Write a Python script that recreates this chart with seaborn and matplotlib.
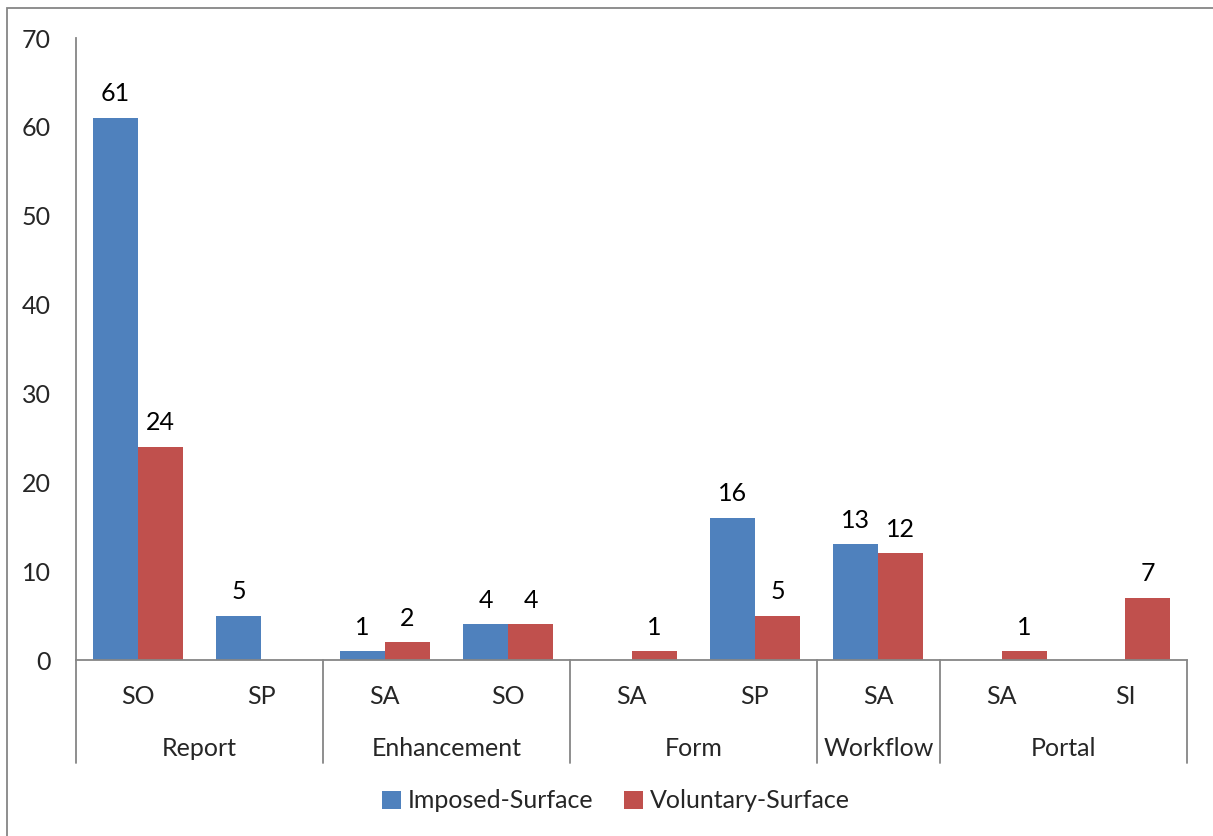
import numpy as np
import pandas as pd
import seaborn as sns
import matplotlib.pyplot as plt
from matplotlib.patches import Rectangle
from matplotlib.transforms import blended_transform_factory

# Two-level category axis: work type and sub-type
groups = ["Report", "Report", "Enhancement", "Enhancement", "Form", "Form",
          "Workflow", "Portal", "Portal"]
subtypes = ["SO", "SP", "SA", "SO", "SA", "SP", "SA", "SA", "SI"]
imposed = [61, 5, 1, 4, np.nan, 16, 13, np.nan, np.nan]
voluntary = [24, np.nan, 2, 4, 1, 5, 12, 1, 7]
series_names = ["Imposed-Surface", "Voluntary-Surface"]
y_ticks = [0, 10, 20, 30, 40, 50, 60, 70]

colors = ["#4F81BD", "#C0504D"]
axis_color = "#868686"

sns.set_style("white")
plt.rcParams["font.family"] = ["Lato", "DejaVu Sans"]
FS = 18

keys = [f"{g}|{s}" for g, s in zip(groups, subtypes)]
df = pd.DataFrame({
    "key": keys * 2,
    "series": [series_names[0]] * len(keys) + [series_names[1]] * len(keys),
    "value": imposed + voluntary,
}).dropna()

W, H = 1213, 836
fig = plt.figure(figsize=(W / 100, H / 100), dpi=100)
ax = fig.add_axes([76 / W, 1 - 660 / H, (1187 - 76) / W, (660 - 38) / H])

sns.barplot(data=df, x="key", y="value", hue="series", order=keys,
            hue_order=series_names, palette=colors, width=0.73,
            linewidth=0, saturation=1, ax=ax, legend=True)

for cont in ax.containers:
    ax.bar_label(cont, fmt="%.0f", padding=9, fontsize=FS, color="black")

ax.set_ylim(0, 70)
ax.set_xlim(-0.5, len(keys) - 0.5)
ax.set_yticks(y_ticks)
ax.set_yticklabels([str(v) for v in y_ticks], fontsize=FS)
ax.tick_params(axis="y", length=0, pad=18)
ax.set_xticks([])
ax.set_xlabel("")
ax.set_ylabel("")
for side in ["top", "right"]:
    ax.spines[side].set_visible(False)
for side in ["left", "bottom"]:
    ax.spines[side].set_color(axis_color)
    ax.spines[side].set_linewidth(1.3)

# Category labels drawn below the axis in two rows
trans = blended_transform_factory(ax.transData, ax.transAxes)
px = 1.0 / (660 - 38)  # one pixel in axes units (vertical)
y_sub = -(696 - 660) * px
y_grp = -(748 - 660) * px
y_end = -(763 - 660) * px

for i, s in enumerate(subtypes):
    ax.text(i, y_sub, s, transform=trans, ha="center", va="center",
            fontsize=FS, clip_on=False)

bounds = [-0.5]
spans = []
start = 0
for i in range(1, len(groups) + 1):
    if i == len(groups) or groups[i] != groups[start]:
        spans.append((groups[start], start, i - 1))
        bounds.append(i - 0.5)
        start = i
for name, a, b in spans:
    ax.text((a + b) / 2, y_grp, name, transform=trans, ha="center",
            va="center", fontsize=FS, clip_on=False)
for xb in bounds:
    ax.plot([xb, xb], [0, y_end], transform=trans, color=axis_color,
            lw=1.3, clip_on=False)

# Legend centred under the chart
handles, labels = ax.get_legend_handles_labels()
ax.legend_.remove()
fig.legend(handles, labels, loc="center", bbox_to_anchor=(616 / W, 1 - 801 / H),
           ncol=2, frameon=False, fontsize=FS, handlelength=0.75,
           handleheight=0.75, handletextpad=0.3, columnspacing=1.2)

# Chart-area border
fig.patches.append(Rectangle((7 / W, -0.1), 1.2, 1 - 8 / H + 0.1,
                             transform=fig.transFigure, fill=False,
                             edgecolor=axis_color, lw=1.3))

fig.savefig("out.png", dpi=100)
